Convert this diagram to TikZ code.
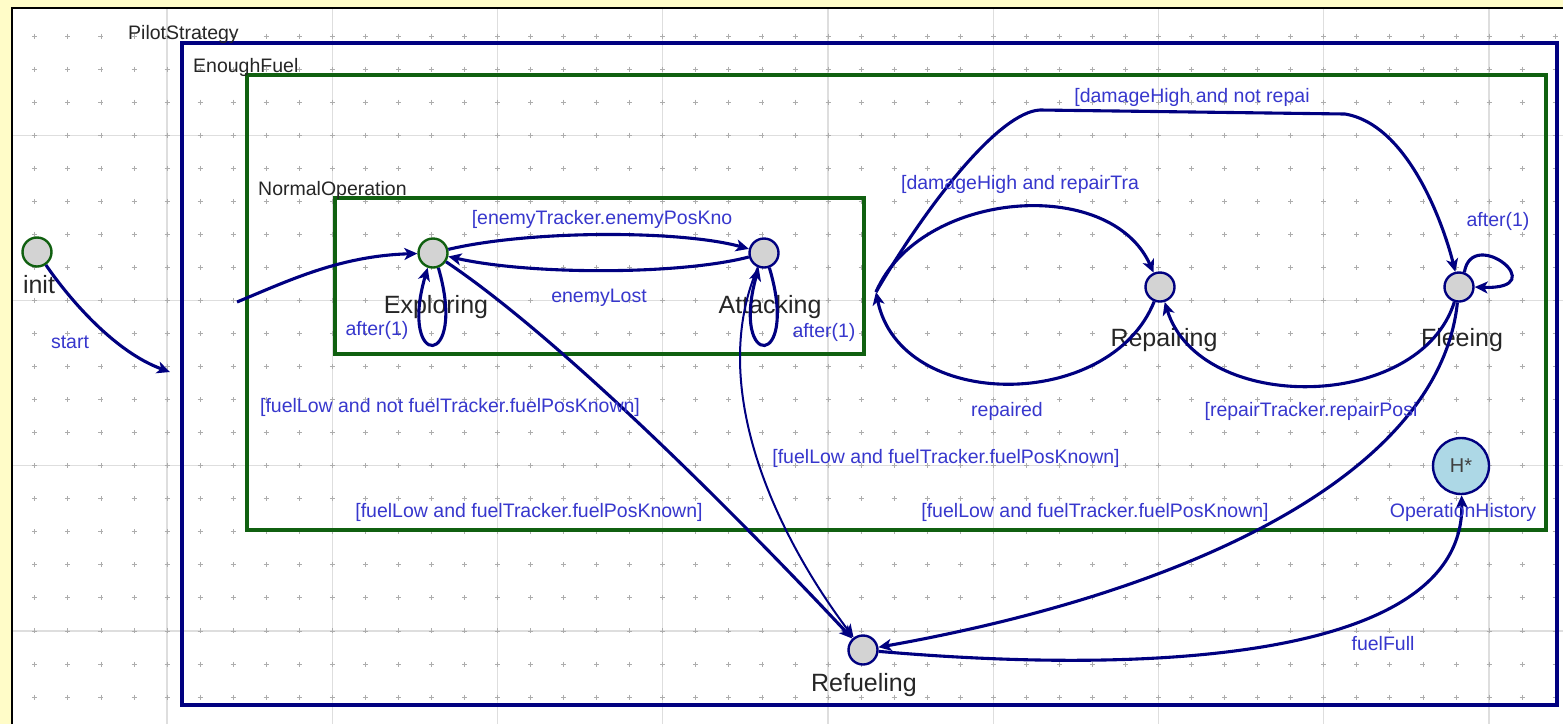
\documentclass[tikz,border=0pt]{standalone}
\usepackage{fontspec}
\setmainfont{Liberation Sans}
\usetikzlibrary{arrows.meta}
\definecolor{navy}{RGB}{0,0,128}
\definecolor{darkgreen}{RGB}{16,96,16}
\definecolor{guardblue}{RGB}{55,55,205}
\definecolor{paper}{RGB}{255,252,200}
\definecolor{stategray}{RGB}{211,211,211}
\definecolor{histblue}{RGB}{173,216,230}
\begin{document}
\begin{tikzpicture}[x=1pt,y=-1pt,>={Stealth[length=13pt,width=12pt,inset=3.5pt]},
  state/.style={circle,draw=navy,line width=2.4pt,fill=stategray,minimum size=29pt,inner sep=0pt},
  startstate/.style={state,draw=darkgreen},
  trans/.style={->,draw=navy,line width=3.1pt},
  guard/.style={text=guardblue,font=\fontsize{19.5}{20}\selectfont,anchor=base,inner sep=0pt},
  sname/.style={text=black!85,font=\fontsize{25}{26}\selectfont,anchor=base,inner sep=0pt},
  boxname/.style={text=black!85,font=\fontsize{19.5}{20}\selectfont,anchor=base west,inner sep=0pt},
  region/.style={draw=darkgreen,line width=3.5pt}]
\useasboundingbox (0,0) rectangle (1563,724);
\fill[paper] (0,0) rectangle (1563,724);
\fill[white] (12,8) rectangle (1563,724);
\foreach \k in {1,...,9}
  \draw[black!13,line width=1.2pt] ({1.8+165.25*\k},8) -- ({1.8+165.25*\k},724);
\foreach \k in {0,...,3}
  \draw[black!13,line width=1.2pt] (12,{135.2+165.25*\k}) -- (1563,{135.2+165.25*\k});
\foreach \i in {1,...,47}{
  \foreach \j in {1,...,21}{
    \draw[black!32,line width=0.9pt] ({1.8+33.05*\i},{3+33.05*\j}) +(-2.5,0) -- +(2.5,0) +(0,-2.5) -- +(0,2.5);
  }
}
\draw[black,line width=2.5pt] (12,724) -- (12,8) -- (1563,8);
\draw[navy,line width=3.5pt] (182,43) rectangle (1557,705);
\draw[region] (247,75) rectangle (1546,530);
\draw[region] (335,198) rectangle (864,354);
\node[boxname] (pilotname) at (128,39) {PilotStrategy};
\node[boxname] (fuelname) at (193,72) {EnoughFuel};
\node[boxname] (normname) at (258,195) {NormalOperation};
\node[startstate] (init) at (37,252) {};
\node[startstate] (explo) at (433,253) {};
\node[state] (attack) at (764,253) {};
\node[state] (repair) at (1160,287) {};
\node[state] (flee) at (1459,287) {};
\node[state] (refuel) at (863,650) {};
\node[state,fill=histblue,minimum size=56pt,font=\fontsize{20}{20}\selectfont,text=black!75] (hist) at (1461,466) {H*};
\node[sname] (initname) at (39,293) {init};
\node[sname] (exploname) at (436,313) {Exploring};
\node[sname] (attackname) at (770,313) {Attacking};
\node[sname] (repairname) at (1164,346) {Repairing};
\node[sname] (fleename) at (1462,346) {Fleeing};
\node[sname] (refuelname) at (864,691) {Refueling};
\coordinate (startend) at (170,372);
\coordinate (entry) at (237,302);
\coordinate (junc) at (876,292);
\draw[trans] (init) .. controls (70,300) and (115,352) .. (startend);
\draw[trans] (entry) .. controls (290,280) and (340,256) .. (explo);
\draw[trans] (explo) .. controls (530,230) and (680,230) .. (attack);
\draw[trans] (attack) .. controls (680,275) and (530,275) .. (explo);
\draw[trans] (explo.-70) .. controls (468,370) and (398,370) .. (explo.-110);
\draw[trans] (attack.-70) .. controls (800,370) and (730,370) .. (attack.-110);
\draw[trans] (explo) .. controls (570,345) and (760,540) .. (refuel);
\draw[trans,line width=2pt] (attack) .. controls (705,390) and (780,540) .. (refuel);
\draw[trans] (flee) .. controls (1440,470) and (1200,590) .. (refuel);
\draw[trans] (refuel) .. controls (1150,675) and (1465,660) .. (hist);
\draw[trans] (junc) .. controls (920,190) and (1110,175) .. (repair);
\draw[trans] (junc) .. controls (930,200) and (1000,112) .. (1040,110) -- (1345,114)
  .. controls (1410,125) and (1445,230) .. (flee);
\draw[trans] (repair) .. controls (1110,412) and (900,412) .. (junc);
\draw[trans] (flee) .. controls (1420,412) and (1200,415) .. (repair);
\draw[trans] (flee.70) .. controls (1472,225) and (1555,290) .. (flee.0);
\node[guard] (startlbl) at (70,348) {start};
\node[guard] (seeklbl) at (602,224) {[enemyTracker.enemyPosKno};
\node[guard] (lostlbl) at (599,302) {enemyLost};
\node[guard] (exploop) at (377,335) {after(1)};
\node[guard] (atkloop) at (824,337) {after(1)};
\node[guard] (fleeloop) at (1498,226) {after(1)};
\node[guard] (nofuellbl) at (450,412) {[fuelLow and not fuelTracker.fuelPosKnown]};
\node[guard] (fuelexplo) at (529,517) {[fuelLow and fuelTracker.fuelPosKnown]};
\node[guard] (fuelatk) at (946,463) {[fuelLow and fuelTracker.fuelPosKnown]};
\node[guard] (fuelflee) at (1095,517) {[fuelLow and fuelTracker.fuelPosKnown]};
\node[guard] (fleelbl) at (1192,102) {[damageHigh and not repai};
\node[guard] (repairlbl) at (1020,189) {[damageHigh and repairTra};
\node[guard] (donelbl) at (1007,416) {repaired};
\node[guard] (backlbl) at (1311,416) {[repairTracker.repairPosi};
\node[guard] (histname) at (1463,517) {OperationHistory};
\node[guard] (fulllbl) at (1383,650) {fuelFull};
\end{tikzpicture}
\end{document}
